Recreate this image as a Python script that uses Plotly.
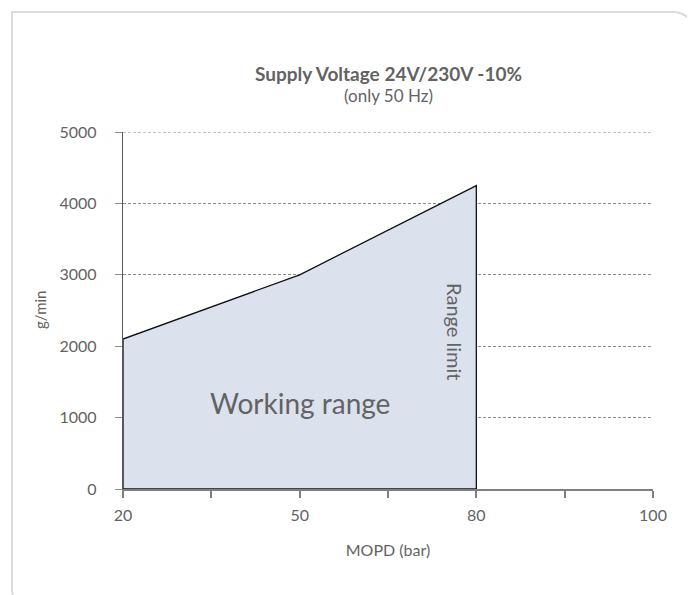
import plotly.graph_objects as go

# x axis positions are evenly spaced categories, labelled on every other tick
TICK_LABELS = ["20", "", "50", "", "80", "", "100"]
MOPD = ["20", "50", "80"]          # bar
CAPACITY = [2100, 3000, 4250]      # g/min

Y_TICKS = [0, 1000, 2000, 3000, 4000, 5000]

TEXT = "#636363"
FONT = "Lato"

xpos = [TICK_LABELS.index(m) for m in MOPD]

# working range polygon: down to zero at both ends
poly_x = [xpos[0]] + xpos + [xpos[-1], xpos[0]]
poly_y = [0] + CAPACITY + [0, 0]

fig = go.Figure()
fig.add_trace(go.Scatter(
    x=poly_x, y=poly_y,
    mode="lines",
    fill="toself",
    fillcolor="#dbe2ee",
    line=dict(color="#111111", width=1.3),
    hoverinfo="skip",
    showlegend=False,
))

# page body has an 8px margin, so the figure is a bit smaller than the window
OFF = 8
W, H = 687, 587
L, R, T, B = 115, 42, 124, 106
pw, ph = W - L - R, H - T - B


def px(x):
    return (x - OFF - L) / pw


def py(y):
    return (H - B - (y - OFF)) / ph


# card outline: square top-left, rounded top-right and bottom-left
xl, xr, yt, yb = px(12), px(692), py(12), py(599)
rx, ry = 20 / pw, 20 / ph
rx2, ry2 = 9 / pw, 9 / ph
card = (f"M {xr},{py(640)} L {xr},{yt - ry} Q {xr},{yt} {xr - rx},{yt} "
        f"L {xl},{yt} L {xl},{yb + ry2} Q {xl},{yb} {xl + rx2},{yb} "
        f"L {xr},{yb}")
fig.add_shape(type="path", path=card, xref="paper", yref="paper",
              line=dict(color="#dcdcdc", width=2), layer="below")

fig.add_annotation(x=0.5, y=py(60), xref="paper", yref="paper",
                   text="<b>Supply Voltage 24V/230V -10%</b>", showarrow=False,
                   font=dict(size=19, color=TEXT, family=FONT))
fig.add_annotation(x=0.5, y=py(83), xref="paper", yref="paper",
                   text="(only 50 Hz)", showarrow=False,
                   font=dict(size=17, color=TEXT, family=FONT))

fig.add_annotation(x=2, y=1210, text="Working range", showarrow=False,
                   font=dict(size=28, color=TEXT, family=FONT))
fig.add_annotation(x=3.76, y=2210, text="Range limit", showarrow=False,
                   textangle=90, font=dict(size=20, color=TEXT, family=FONT))

fig.add_annotation(x=px(40), y=py(310), xref="paper", yref="paper",
                   xanchor="center", yanchor="middle",
                   text="g/min", showarrow=False, textangle=-90,
                   font=dict(size=15, color=TEXT, family=FONT))

fig.update_xaxes(
    range=[0, 6], tickmode="array", tickvals=list(range(len(TICK_LABELS))),
    ticktext=TICK_LABELS, ticks="outside", ticklen=7, tickcolor="#7f7f7f",
    tickwidth=1.5, showline=True, linecolor="#7f7f7f", linewidth=1.5,
    showgrid=False, zeroline=False, ticklabelstandoff=4,
    tickfont=dict(size=16, color=TEXT, family=FONT),
    title=dict(text="MOPD (bar)", font=dict(size=16, color=TEXT, family=FONT),
               standoff=22),
)
fig.update_yaxes(
    range=[0, 5000], tickmode="array", tickvals=Y_TICKS,
    ticks="outside", ticklen=7, tickcolor="#8c8c8c", tickwidth=1,
    showline=True, linecolor="#555555", linewidth=1.3,
    showgrid=True, gridcolor="#8c8c8c", gridwidth=1, griddash="3px,2px",
    zeroline=False, ticklabelstandoff=15,
    tickfont=dict(size=16, color=TEXT, family=FONT),
)

# top gridline sits on the plot edge, plotly skips it, so add it
fig.add_shape(type="line", xref="paper", yref="y", x0=0, x1=1,
              y0=Y_TICKS[-1], y1=Y_TICKS[-1],
              line=dict(color="#8c8c8c", width=1, dash="3px,2px"))

fig.update_layout(
    width=W, height=H,
    margin=dict(l=L, r=R, t=T, b=B),
    paper_bgcolor="white", plot_bgcolor="white",
    showlegend=False,
)

fig.write_html("out.html")
